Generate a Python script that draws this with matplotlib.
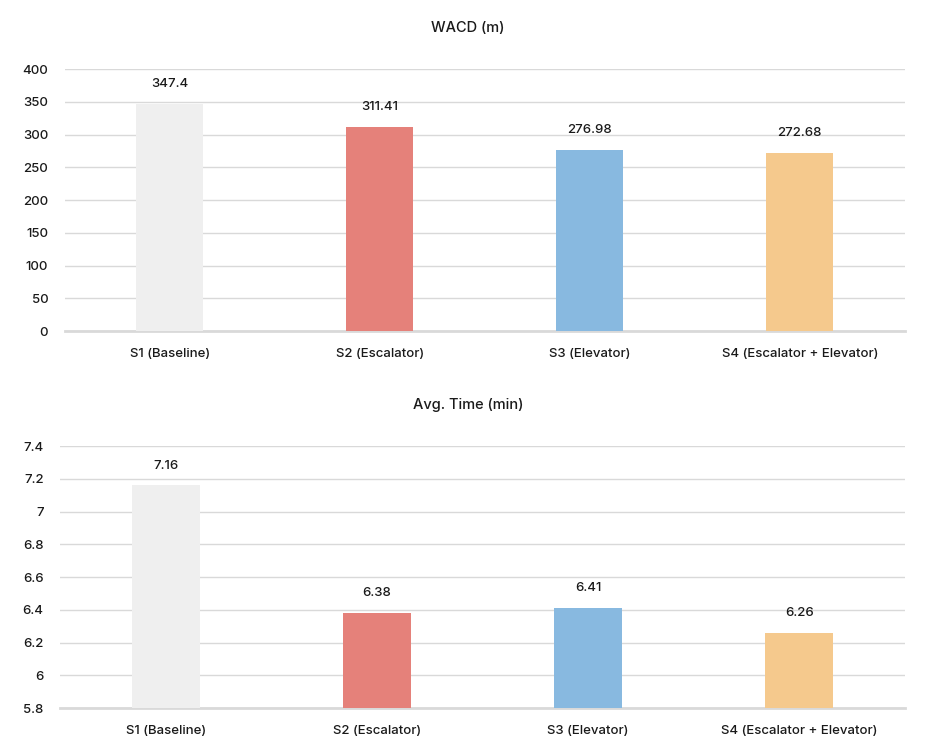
import matplotlib.pyplot as plt

# Data
scenarios = ['S1 (Baseline)', 'S2 (Escalator)', 'S3 (Elevator)', 'S4 (Escalator + Elevator)']
wacd = [347.4, 311.41, 276.98, 272.68]
avg_time = [7.16, 6.38, 6.41, 6.26]
wacd_labels = ['347.4', '311.41', '276.98', '272.68']
time_labels = ['7.16', '6.38', '6.41', '6.26']
bar_colors = ['#EFEFEF', '#E5817A', '#88B9E0', '#F5C98D']

plt.rcParams['font.family'] = ['Inter', 'DejaVu Sans']
plt.rcParams['font.weight'] = 'medium'
text_color = '#1A1A1A'

fig = plt.figure(figsize=(9.27, 7.51), dpi=100)


def draw_panel(ax, values, labels, ylim, yticks, yticklabels):
    x = range(len(scenarios))
    ax.bar(x, values, width=0.32, color=bar_colors, zorder=3)
    ax.set_xlim(-0.5, len(scenarios) - 0.5)
    ax.set_ylim(*ylim)
    ax.set_yticks(yticks)
    ax.set_yticklabels(yticklabels, fontsize=9.5, color=text_color)
    ax.set_xticks(list(x))
    ax.set_xticklabels(scenarios, fontsize=9.5, color=text_color)
    ax.tick_params(axis='both', length=0)
    ax.tick_params(axis='y', pad=12)
    ax.tick_params(axis='x', pad=12)
    ax.grid(axis='y', color='#D9D9D9', linewidth=1, zorder=0)
    for s in ['top', 'right', 'left']:
        ax.spines[s].set_visible(False)
    ax.spines['bottom'].set_color('#D9D9D9')
    ax.spines['bottom'].set_linewidth(2)
    for i, (v, lab) in enumerate(zip(values, labels)):
        ax.annotate(lab, (i, v), xytext=(0, 10), textcoords='offset points',
                    ha='center', va='bottom', fontsize=9.5, color=text_color)


ax1 = fig.add_axes([0.070, 0.559, 0.906, 0.349])
draw_panel(ax1, wacd, wacd_labels, (0, 400), range(0, 401, 50),
           [str(v) for v in range(0, 401, 50)])
fig.text(468 / 927, 1 - 28 / 751, 'WACD (m)', ha='center', va='center',
         fontsize=10.5, color=text_color)

ticks2 = [5.8, 6.0, 6.2, 6.4, 6.6, 6.8, 7.0, 7.2, 7.4]
tick2_labels = ['5.8', '6', '6.2', '6.4', '6.6', '6.8', '7', '7.2', '7.4']
ax2 = fig.add_axes([0.065, 0.057, 0.911, 0.349])
draw_panel(ax2, avg_time, time_labels, (5.8, 7.4), ticks2, tick2_labels)
fig.text(468 / 927, 1 - 405 / 751, 'Avg. Time (min)', ha='center', va='center',
         fontsize=10.5, color=text_color)

fig.savefig('out.png', dpi=100, facecolor='white')
